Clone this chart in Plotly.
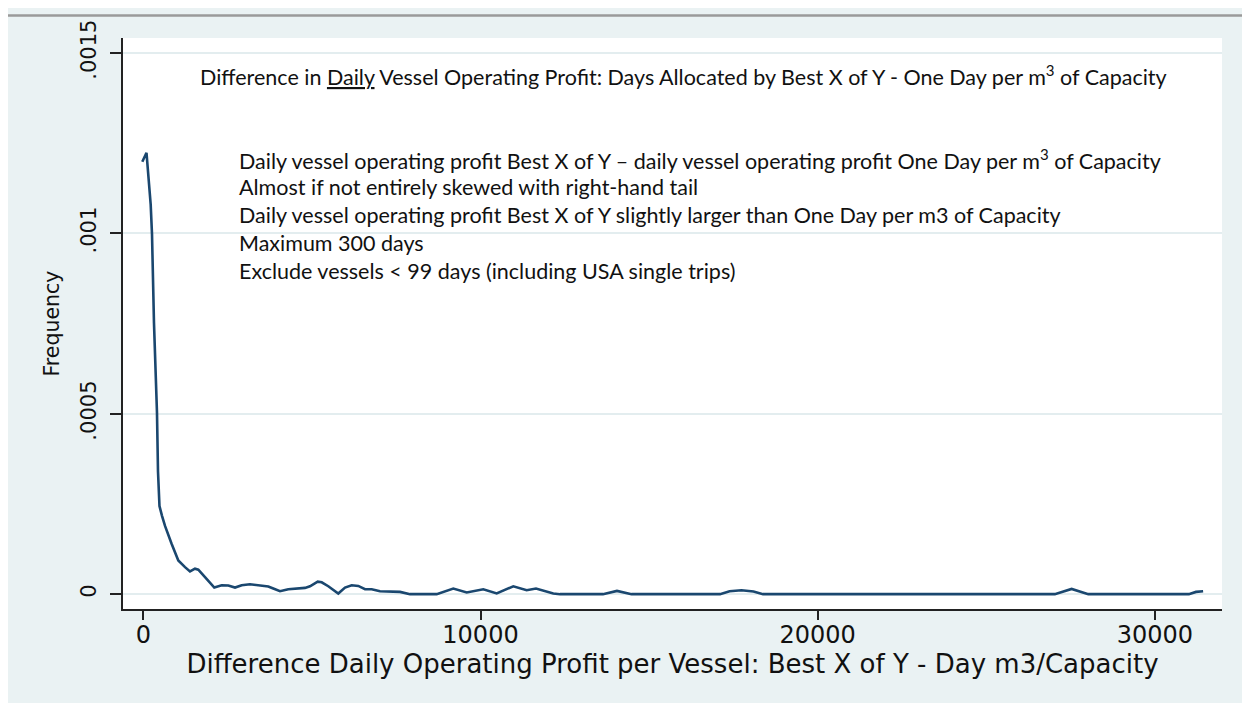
import plotly.graph_objects as go

# kernel density estimate
profit_diff = [-30, 95, 219, 258, 317, 406, 436, 480, 555, 644, 842, 1038, 1237, 1385, 1533,
               1631, 1830, 2106, 2325, 2521, 2720, 2918, 3164, 3410, 3707, 3855, 4054, 4300,
               4597, 4795, 4944, 5172, 5291, 5486, 5783, 5982, 6180, 6376, 6575, 6773, 7020,
               7414, 7613, 7909, 8701, 9193, 9591, 10083, 10481, 10973, 11370, 11646, 12159,
               12358, 13633, 14048, 14478, 17103, 17387, 17740, 18096, 18378, 27032, 27530,
               28025, 31006, 31219, 31430]
density = [0.001198, 0.001223, 0.001080, 0.000998, 0.000751, 0.000502, 0.000340, 0.000244,
           0.000217, 0.000189, 0.000139, 0.0000932, 0.0000749, 0.0000631, 0.0000705,
           0.0000677, 0.0000474, 0.0000184, 0.0000247, 0.0000239, 0.0000184, 0.0000247,
           0.0000274, 0.0000247, 0.0000211, 0.0000156, 0.0000082, 0.0000137, 0.0000165,
           0.0000173, 0.0000219, 0.0000348, 0.0000329, 0.0000219, 0.0000019, 0.0000184,
           0.0000247, 0.0000228, 0.0000137, 0.0000137, 0.0000082, 0.0000082, 0.0000063,
           0, 0, 0.0000156, 0.0000047, 0.0000137, 0.0000019, 0.0000219, 0.0000110,
           0.0000156, 0.0000019, 0, 0, 0.0000090, 0, 0, 0.0000082, 0.0000110, 0.0000074,
           0, 0, 0.0000145, 0, 0, 0.0000063, 0.0000082]

y_tickvals = [0, 0.0005, 0.001, 0.0015]
y_ticktext = ["0", ".0005", ".001", ".0015"]
x_tickvals = [0, 10000, 20000, 30000]
x_ticktext = ["0", "10000", "20000", "30000"]

title_text = ("Difference in <u>Daily</u> Vessel Operating Profit: Days Allocated by "
              "Best X of Y - One Day per m<sup>3</sup> of Capacity")
notes = [
    "Daily vessel operating profit Best X of Y \u2013 daily vessel operating profit One Day per m<sup>3</sup> of Capacity",
    "Almost if not entirely skewed with right-hand tail",
    "Daily vessel operating profit Best X of Y slightly larger than One Day per m3 of Capacity",
    "Maximum 300 days",
    "Exclude vessels < 99 days (including USA single trips)",
]

# page body has an 8px margin, so the figure fills the rest of the window
W, H = 1242, 695
L, R, T, B = 115, 1214, 24, 601   # plot area in figure pixels


def px_x(p):
    return (p - L) / (R - L)


def px_y(p):
    return (B - p) / (B - T)


fig = go.Figure()
fig.add_trace(go.Scatter(x=profit_diff, y=density, mode="lines",
                         line=dict(color="#1A476F", width=2.6), showlegend=False))

fig.update_layout(
    width=W, height=H,
    margin=dict(l=L, r=W - R, t=T, b=H - B),
    paper_bgcolor="#EAF2F3", plot_bgcolor="white",
    xaxis=dict(range=[-602, 31990], tickmode="array", tickvals=x_tickvals,
               ticktext=x_ticktext, ticks="outside", ticklen=9, tickwidth=1.5,
               tickcolor="#222", showline=True, linecolor="#222", linewidth=1.5,
               showgrid=False, zeroline=False, ticklabelstandoff=-6,
               tickfont=dict(family="DejaVu Sans", size=24, color="#111"),
               title=dict(text="Difference Daily Operating Profit per Vessel: Best X of Y - Day m3/Capacity",
                          font=dict(family="DejaVu Sans", size=26, color="#111"), standoff=1)),
    yaxis=dict(range=[-0.0000411, 0.001541], tickmode="array", tickvals=y_tickvals,
               ticktext=y_ticktext, ticks="outside", ticklen=11, tickwidth=1.5,
               tickcolor="#222", showline=True, linecolor="#222", linewidth=1.5,
               showgrid=True, gridcolor="#E3EDEF", gridwidth=1.5, zeroline=False,
               tickangle=-90, ticklabelstandoff=6,
               tickfont=dict(family="DejaVu Sans", size=21, color="#111"),
               title=dict(text="Frequency", font=dict(family="DejaVu Sans", size=20.5, color="#111"),
                          standoff=12)),
)

# grey rule along the top edge of the page
fig.add_shape(type="line", xref="paper", yref="paper", x0=px_x(0), x1=px_x(W),
              y0=px_y(1.2), y1=px_y(1.2), line=dict(color="#9A9A9A", width=2.5))

note_font = dict(family="Lato", size=21.5, color="#111")
fig.add_annotation(text=title_text, xref="paper", yref="paper", x=px_x(675), y=px_y(62),
                   xanchor="center", yanchor="middle", showarrow=False, font=note_font)
for i, line in enumerate(notes):
    fig.add_annotation(text=line, xref="paper", yref="paper", x=px_x(229), y=px_y(147 + 28 * i),
                       xanchor="left", yanchor="middle", showarrow=False, font=note_font)

fig.write_html("out.html")
